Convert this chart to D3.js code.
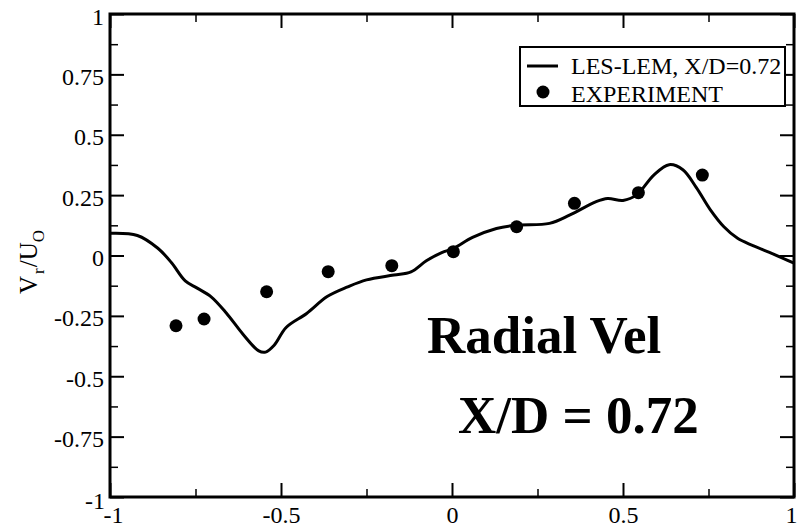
<!DOCTYPE html>
<html>
<head>
<meta charset="utf-8">
<script src="https://cdn.jsdelivr.net/npm/d3@7"></script>
<style>
    body { margin: 0; background: white; }
    svg text { font-family: "Liberation Serif", "DejaVu Serif", serif !important; }
</style>
</head>
<body>
<div id="chart"></div>
<script>
// LES-LEM curve, X/D = 0.72
const les_x = [-1.00, -0.92, -0.86, -0.82, -0.78, -0.745, -0.705, -0.66, -0.61, -0.565, -0.545, -0.52,
    -0.485, -0.425, -0.365, -0.305, -0.25, -0.17, -0.12, -0.075, -0.03, 0.005, 0.06, 0.13, 0.19,
    0.285, 0.345, 0.42, 0.455, 0.50, 0.54, 0.59, 0.635, 0.675, 0.715, 0.755, 0.795, 0.835, 0.88, 0.94, 1.00]
const les_y = [0.092, 0.083, 0.030, -0.030, -0.105, -0.135, -0.170, -0.238, -0.328, -0.395, -0.400, -0.372,
    -0.298, -0.240, -0.170, -0.130, -0.101, -0.081, -0.068, -0.022, 0.012, 0.030, 0.075, 0.112, 0.126,
    0.133, 0.168, 0.222, 0.236, 0.228, 0.251, 0.333, 0.376, 0.355, 0.280, 0.190, 0.119, 0.071, 0.041, 0.006, -0.032]
// experiment points
const exp_x = [-0.807, -0.725, -0.542, -0.362, -0.176, 0.004, 0.189, 0.358, 0.545, 0.732]
const exp_y = [-0.291, -0.263, -0.150, -0.067, -0.042, 0.016, 0.119, 0.216, 0.260, 0.333]
// ticks
const x_major = [-1, -0.5, 0, 0.5, 1]
const x_minor = [-0.75, -0.25, 0.25, 0.75]
const y_major = [-1, -0.75, -0.5, -0.25, 0, 0.25, 0.5, 0.75, 1]
const y_minor = [-0.875, -0.625, -0.375, -0.125, 0.125, 0.375, 0.625, 0.875]
const legend_labels = ["LES-LEM, X/D=0.72", "EXPERIMENT"]
const notes = ["Radial Vel", "X/D = 0.72"]

const width = 797, height = 527;
const margin = { left: 110, right: 3, top: 14, bottom: 30 };

let svg = d3.select("#chart").append("svg")
    .attr("width", width)
    .attr("height", height)

let x = d3.scaleLinear()
    .domain([-1, 1])
    .range([margin.left, width - margin.right])
let y = d3.scaleLinear()
    .domain([-1, 1])
    .range([height - margin.bottom, margin.top])

const fmt = function (d) { return String(d) };

// axes, ticks pointing inward
function add_axis(axis, transform, cls) {
    let g = svg.append("g")
        .attr("class", cls)
        .attr("transform", transform)
        .call(axis)
    g.select(".domain").remove()
    return g
}

let bottom = add_axis(d3.axisBottom(x).tickValues(x_major).tickSize(-14).tickPadding(8).tickFormat(fmt),
    "translate(0," + y(-1) + ")", "xaxis")
add_axis(d3.axisBottom(x).tickValues(x_minor).tickSize(-8).tickFormat(""), "translate(0," + y(-1) + ")", "minor")
add_axis(d3.axisTop(x).tickValues(x_major).tickSize(-14).tickFormat(""), "translate(0," + y(1) + ")", "major")
add_axis(d3.axisTop(x).tickValues(x_minor).tickSize(-8).tickFormat(""), "translate(0," + y(1) + ")", "minor")

let left = add_axis(d3.axisLeft(y).tickValues(y_major).tickSize(-14).tickPadding(6).tickFormat(fmt),
    "translate(" + x(-1) + ",0)", "yaxis")
add_axis(d3.axisLeft(y).tickValues(y_minor).tickSize(-8).tickFormat(""), "translate(" + x(-1) + ",0)", "minor")
add_axis(d3.axisRight(y).tickValues(y_major).tickSize(-14).tickFormat(""), "translate(" + x(1) + ",0)", "major")
add_axis(d3.axisRight(y).tickValues(y_minor).tickSize(-8).tickFormat(""), "translate(" + x(1) + ",0)", "minor")

svg.selectAll(".tick line")
    .attr("stroke", "black")
    .attr("stroke-width", 2)
svg.selectAll(".minor .tick line").attr("stroke-width", 1.5)

// tick label styling
bottom.selectAll("text")
    .attr("font-size", "24px")
    .attr("fill", "black")
    .attr("dy", null)
    .attr("y", 26)
bottom.selectAll("text").filter(function (d) { return d == 1 })
    .attr("text-anchor", "end")
    .attr("x", 3)
bottom.selectAll("text").filter(function (d) { return d == -1 })
    .attr("x", 3)
left.selectAll("text")
    .attr("font-size", "24px")
    .attr("fill", "black")
    .attr("dy", null)
    .attr("y", 10)
    .attr("x", function (d) { return d == -1 ? -5 : -6 })
left.selectAll("text").filter(function (d) { return d == -1 }).attr("y", 11)

// frame
svg.append("rect")
    .attr("x", x(-1))
    .attr("y", y(1))
    .attr("width", x(1) - x(-1))
    .attr("height", y(-1) - y(1))
    .attr("fill", "none")
    .attr("stroke", "black")
    .attr("stroke-width", 3)

// y axis title V_r/U_O
let ytitle = svg.append("text")
    .attr("transform", "translate(37," + 262 + ") rotate(-90)")
    .attr("text-anchor", "middle")
    .attr("font-size", "25px")
    .attr("fill", "black")
ytitle.append("tspan").text("V")
ytitle.append("tspan").text("r").attr("font-size", "17px").attr("dy", 7).attr("dx", 2)
ytitle.append("tspan").text("/").attr("dy", -7).attr("dx", 1)
ytitle.append("tspan").text("U")
ytitle.append("tspan").text("O").attr("font-size", "17px").attr("dy", 7)

// curve
let les = les_x.map(function (d, i) { return [d, les_y[i]] })
svg.append("path")
    .datum(les)
    .attr("fill", "none")
    .attr("stroke", "black")
    .attr("stroke-width", 3)
    .attr("stroke-linejoin", "round")
    .attr("d", d3.line()
        .x(function (d) { return x(d[0]) })
        .y(function (d) { return y(d[1]) })
        .curve(d3.curveCatmullRom))

// experiment dots
svg.selectAll(".exp")
    .data(exp_x.map(function (d, i) { return [d, exp_y[i]] }))
    .join("circle")
    .attr("class", "exp")
    .attr("cx", function (d) { return x(d[0]) })
    .attr("cy", function (d) { return y(d[1]) })
    .attr("r", 6.5)
    .attr("fill", "black")

// legend
let legend = svg.append("g")
legend.append("rect")
    .attr("x", 520).attr("y", 47)
    .attr("width", 265).attr("height", 59)
    .attr("fill", "white")
    .attr("stroke", "black")
    .attr("stroke-width", 2)
legend.append("line")
    .attr("x1", 527).attr("x2", 558)
    .attr("y1", 66).attr("y2", 66)
    .attr("stroke", "black")
    .attr("stroke-width", 3)
legend.append("circle")
    .attr("cx", 543).attr("cy", 92)
    .attr("r", 6.5)
    .attr("fill", "black")
legend.selectAll(".ltext")
    .data(legend_labels)
    .join("text")
    .attr("class", "ltext")
    .attr("x", 571)
    .attr("y", function (d, i) { return 74 + i * 28 })
    .attr("font-size", "24px")
    .attr("fill", "black")
    .text(function (d) { return d })

// big annotation
svg.selectAll(".note")
    .data(notes)
    .join("text")
    .attr("class", "note")
    .attr("x", function (d, i) { return i == 0 ? 427 : 458 })
    .attr("y", function (d, i) { return i == 0 ? 353 : 433 })
    .attr("font-size", "53px")
    .attr("font-weight", "bold")
    .attr("fill", "black")
    .text(function (d) { return d })
</script>
</body>
</html>
